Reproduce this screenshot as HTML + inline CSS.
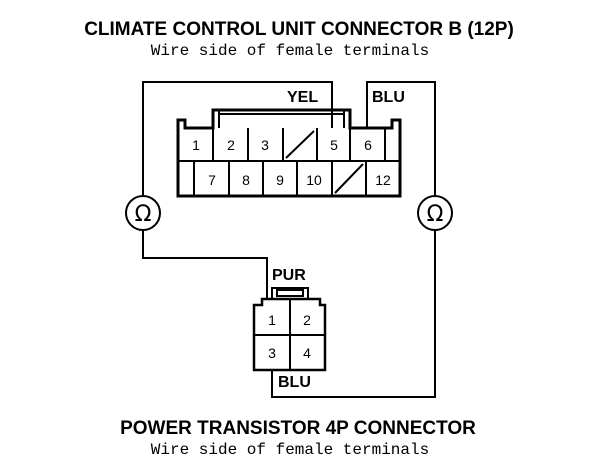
<!DOCTYPE html>
<html><head><style>
body{margin:0;background:#fff;}
svg{display:block;}
.t{font-family:"Liberation Sans",Arial,sans-serif;font-weight:bold;font-size:19px;}
.m{font-family:"Liberation Mono",monospace;font-size:16px;}
.n{font-family:"Liberation Sans",Arial,sans-serif;font-size:14px;}
.b{font-family:"Liberation Sans",Arial,sans-serif;font-weight:bold;font-size:16px;}
</style></head><body>
<svg width="608" height="472" viewBox="0 0 608 472" xmlns="http://www.w3.org/2000/svg">
<g fill="none" stroke="#000">
<text x="299" y="35" text-anchor="middle" class="t" fill="#000" stroke="none">CLIMATE CONTROL UNIT CONNECTOR B (12P)</text>
<text x="290" y="55" text-anchor="middle" class="m" fill="#000" stroke="none">Wire side of female terminals</text>
<text x="298" y="434" text-anchor="middle" class="t" fill="#000" stroke="none">POWER TRANSISTOR 4P CONNECTOR</text>
<text x="290" y="454" text-anchor="middle" class="m" fill="#000" stroke="none">Wire side of female terminals</text>

<path d="M178,196 V120 H185 V128 H213 V110 H350 V128 H392 V120 H400 V196 Z" stroke-width="3"/>
<path d="M219,110 V128 M344,110 V128 M219,114 H344" stroke-width="2"/>
<path d="M178,161 H400" stroke-width="2"/>
<path d="M213,128V161 M248,128V161 M283,128V161 M317,128V161 M350,128V161 M385,128V161" stroke-width="2"/>
<path d="M194,161V196 M229,161V196 M263,161V196 M297,161V196 M332,161V196 M366,161V196" stroke-width="2"/>
<path d="M286,158 L314,131 M335,193 L363,164" stroke-width="2"/>
<g class="n" fill="#000" stroke="none" text-anchor="middle">
<text x="196" y="150">1</text><text x="231" y="150">2</text><text x="265" y="150">3</text><text x="334" y="150">5</text><text x="368" y="150">6</text>
<text x="212" y="185">7</text><text x="246" y="185">8</text><text x="280" y="185">9</text><text x="314" y="185">10</text><text x="383" y="185">12</text>
</g>
<text x="287" y="102" class="b" fill="#000" stroke="none">YEL</text>
<text x="372" y="102" class="b" fill="#000" stroke="none">BLU</text>

<path d="M143,195 V82 H332 V128" stroke-width="2"/>
<path d="M367,128 V82 H435 V195" stroke-width="2"/>
<path d="M143,230 V258 H267 V300" stroke-width="2"/>
<path d="M435,230 V397 H272 V370" stroke-width="2"/>

<circle cx="143" cy="213" r="17" stroke-width="2"/>
<circle cx="435" cy="213" r="17" stroke-width="2"/>
<text x="143" y="221" text-anchor="middle" font-family="DejaVu Sans,sans-serif" font-size="22" fill="#000" stroke="none">Ω</text>
<text x="435" y="221" text-anchor="middle" font-family="DejaVu Sans,sans-serif" font-size="22" fill="#000" stroke="none">Ω</text>

<path d="M254,370 V305 H262 V299 H320 V305 H325 V370 Z" stroke-width="2.5"/>
<path d="M272,299 V288 H308 V299" stroke-width="2"/>
<rect x="277" y="290" width="26" height="6" stroke-width="2"/>
<path d="M290,299 V370 M254,335 H325" stroke-width="2"/>
<g class="n" fill="#000" stroke="none" text-anchor="middle">
<text x="272" y="325">1</text><text x="307" y="325">2</text><text x="272" y="358">3</text><text x="307" y="358">4</text>
</g>
<text x="272" y="280" class="b" fill="#000" stroke="none">PUR</text>
<text x="278" y="387" class="b" fill="#000" stroke="none">BLU</text>
</g>
</svg>
</body></html>
